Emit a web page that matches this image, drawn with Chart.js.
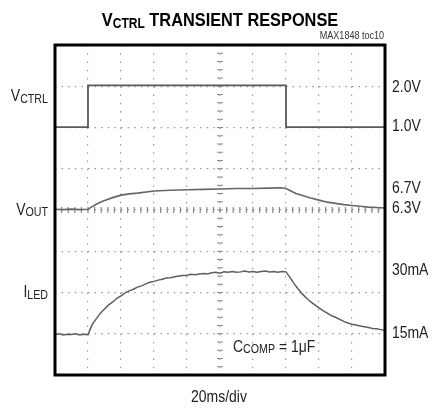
<!DOCTYPE html>
<html lang="en">
<head>
<meta charset="UTF-8">
<title>VCTRL Transient Response</title>
<style>
  body { margin: 0; background: #fff; }
  #wrap { width: 433px; height: 408px; }
</style>
</head>
<body>
<div id="wrap"><canvas id="scope" width="433" height="408"></canvas></div>
<script src="https://cdn.jsdelivr.net/npm/chart.js"></script>
<script>
// scope traces, y in graticule divisions (0 = bottom, 8 = top), x in ms (20ms/div)
const vctrlTime  = [0, 20, 20, 140, 140, 200];
const vctrlLevel = [6.01, 6.01, 7.02, 7.02, 6.01, 6.01];

const voutTime  = [0, 5, 10, 15, 20, 22, 25, 27.5, 30, 35, 40, 45, 50, 60, 70, 80, 90, 100, 110, 120,
                   130, 137, 140, 143, 146, 150, 155, 160, 165, 170, 175, 180, 185, 190, 195, 200];
const voutLevel = [4.02, 4.01, 4.02, 4.01, 4.02, 4.07, 4.14, 4.19, 4.23, 4.30, 4.36, 4.39, 4.41, 4.46, 4.48, 4.49, 4.50, 4.51, 4.52, 4.52,
                   4.53, 4.54, 4.52, 4.46, 4.40, 4.35, 4.29, 4.24, 4.19, 4.16, 4.13, 4.11, 4.09, 4.07, 4.06, 4.05];

const iledTime = [0, 2.5, 5, 7.5, 10, 12.5, 15, 17.5, 20, 22.5, 25, 27.5, 30, 32.5, 35, 37.5, 40, 42.5, 45, 47.5,
                  50, 52.5, 55, 57.5, 60, 62.5, 65, 67.5, 70, 72.5, 75, 77.5, 80, 82.5, 85, 87.5, 90, 92.5, 95, 97.5,
                  100, 102.5, 105, 107.5, 110, 112.5, 115, 117.5, 120, 122.5, 125, 127.5, 130, 132.5, 135, 137.5, 140, 142.5, 145, 147.5,
                  150, 152.5, 155, 157.5, 160, 162.5, 165, 167.5, 170, 172.5, 175, 177.5, 180, 182.5, 185, 187.5, 190, 192.5, 195, 197.5, 200];
const iledLevel = [0.98, 1.00, 0.97, 0.99, 0.98, 1.00, 0.97, 0.99, 0.98, 1.22, 1.36, 1.50, 1.60, 1.70, 1.77, 1.86, 1.92, 1.99, 2.04, 2.08,
                   2.13, 2.16, 2.21, 2.25, 2.27, 2.30, 2.32, 2.35, 2.36, 2.38, 2.40, 2.41, 2.42, 2.44, 2.43, 2.45, 2.46, 2.45, 2.48, 2.49,
                   2.47, 2.50, 2.49, 2.51, 2.49, 2.50, 2.52, 2.50, 2.51, 2.49, 2.51, 2.52, 2.50, 2.51, 2.49, 2.51, 2.50, 2.36, 2.21, 2.08,
                   1.96, 1.86, 1.77, 1.70, 1.63, 1.56, 1.50, 1.44, 1.40, 1.35, 1.30, 1.26, 1.23, 1.21, 1.19, 1.17, 1.15, 1.13, 1.12, 1.10, 1.08];

// labels on the right of the screen
const rightTickLabels = ['2.0V', '1.0V', '6.7V', '6.3V', '30mA', '15mA'];
const rightTickLevels = [7.0, 6.06, 4.56, 4.07, 2.57, 1.04];

// channel names on the left (main letter + subscript), baseline level
const chanMain  = ['V', 'V', 'I'];
const chanSub   = ['CTRL', 'OUT', 'LED'];
const chanLevel = [6.64, 3.88, 1.89];

const FONT = '"Liberation Sans", Arial, sans-serif';

function pts(xs, ys) {
  return xs.map((x, i) => ({ x: x, y: ys[i] }));
}

// draw text pieces squeezed horizontally (narrow scope-plot font)
function drawParts(ctx, parts, x, y, align, sx) {
  let total = 0;
  parts.forEach(p => {
    ctx.font = (p.weight || 'normal') + ' ' + p.size + 'px ' + FONT;
    p.w = ctx.measureText(p.t).width * sx;
    total += p.w;
  });
  let cx = x;
  if (align === 'right') cx = x - total;
  if (align === 'center') cx = x - total / 2;
  parts.forEach(p => {
    ctx.save();
    ctx.font = (p.weight || 'normal') + ' ' + p.size + 'px ' + FONT;
    ctx.textAlign = 'left';
    ctx.textBaseline = 'alphabetic';
    ctx.fillStyle = p.color || '#222';
    ctx.translate(cx, y + (p.dy || 0));
    ctx.scale(sx, 1);
    ctx.fillText(p.t, 0, 0);
    ctx.restore();
    cx += p.w;
  });
}

const scopeDecor = {
  id: 'scopeDecor',
  beforeDatasetsDraw(chart) {
    const ctx = chart.ctx;
    const xs = chart.scales.x, ys = chart.scales.y;
    const cxp = xs.getPixelForValue(100), cyp = ys.getPixelForValue(4);
    ctx.save();
    ctx.strokeStyle = '#8a8a8a';
    ctx.lineWidth = 1.2;
    ctx.beginPath();
    for (let v = 0; v <= 8.001; v += 0.2) {
      const p = ys.getPixelForValue(v);
      ctx.moveTo(cxp - 3, p); ctx.lineTo(cxp + 3, p);
    }
    for (let t = 0; t <= 200.01; t += 4) {
      const p = xs.getPixelForValue(t);
      ctx.moveTo(p, cyp - 3); ctx.lineTo(p, cyp + 3);
    }
    ctx.stroke();
    ctx.restore();
  },
  afterDraw(chart) {
    const ctx = chart.ctx;
    const a = chart.chartArea;
    const ys = chart.scales.y;
    ctx.save();
    ctx.strokeStyle = '#000';
    ctx.lineWidth = 3;
    ctx.strokeRect(a.left, a.top, a.right - a.left, a.bottom - a.top);
    ctx.restore();

    // title
    drawParts(ctx, [
      { t: 'V', size: 19, weight: 'bold', color: '#000' },
      { t: 'CTRL', size: 14, weight: 'bold', color: '#000', dy: 2 },
      { t: ' TRANSIENT RESPONSE', size: 19, weight: 'bold', color: '#000' }
    ], 220, 26, 'center', 0.86);
    drawParts(ctx, [{ t: 'MAX1848 toc10', size: 11, color: '#333' }], 384, 39, 'right', 0.82);

    // channel names
    chanMain.forEach((m, i) => {
      drawParts(ctx, [
        { t: m, size: 17 },
        { t: chanSub[i], size: 13, dy: 1.5 }
      ], 48, ys.getPixelForValue(chanLevel[i]), 'right', 0.82);
    });

    // right side scale labels
    rightTickLabels.forEach((lab, i) => {
      drawParts(ctx, [{ t: lab, size: 17 }], 392, ys.getPixelForValue(rightTickLevels[i]) + 6, 'left', 0.82);
    });

    // note inside the screen
    drawParts(ctx, [
      { t: 'C', size: 17 },
      { t: 'COMP', size: 13, dy: 1.5 },
      { t: ' = 1\u03BCF', size: 17 }
    ], 233, ys.getPixelForValue(0.56), 'left', 0.82);

    drawParts(ctx, [{ t: '20ms/div', size: 17 }], 219, 402, 'center', 0.82);
  }
};

const traceStyle = { pointRadius: 0, tension: 0, fill: false };

new Chart(document.getElementById('scope').getContext('2d'), {
  type: 'line',
  data: {
    datasets: [
      Object.assign({ label: 'VCTRL', data: pts(vctrlTime, vctrlLevel), borderColor: '#5a5a5a', borderWidth: 1.8 }, traceStyle),
      Object.assign({ label: 'VOUT', data: pts(voutTime, voutLevel), borderColor: '#666', borderWidth: 1.6 }, traceStyle),
      Object.assign({ label: 'ILED', data: pts(iledTime, iledLevel), borderColor: '#5e5e5e', borderWidth: 1.5 }, traceStyle)
    ]
  },
  options: {
    responsive: false,
    animation: false,
    layout: { padding: { top: 45, left: 0, right: 48, bottom: 0 } },
    plugins: { legend: { display: false }, tooltip: { enabled: false }, title: { display: false } },
    scales: {
      x: {
        type: 'linear', min: 0, max: 200,
        ticks: { display: false, stepSize: 20 },
        grid: { color: '#9a9a9a', lineWidth: 1.2, drawTicks: false },
        border: { display: false, dash: [1.5, 6.75] },
        afterFit: s => { s.height = 33; }
      },
      y: {
        min: 0, max: 8,
        ticks: { display: false, stepSize: 1 },
        grid: { color: '#9a9a9a', lineWidth: 1.2, drawTicks: false },
        border: { display: false, dash: [1.5, 5.1] },
        afterFit: s => { s.width = 55; }
      }
    }
  },
  plugins: [scopeDecor]
});
</script>
</body>
</html>
